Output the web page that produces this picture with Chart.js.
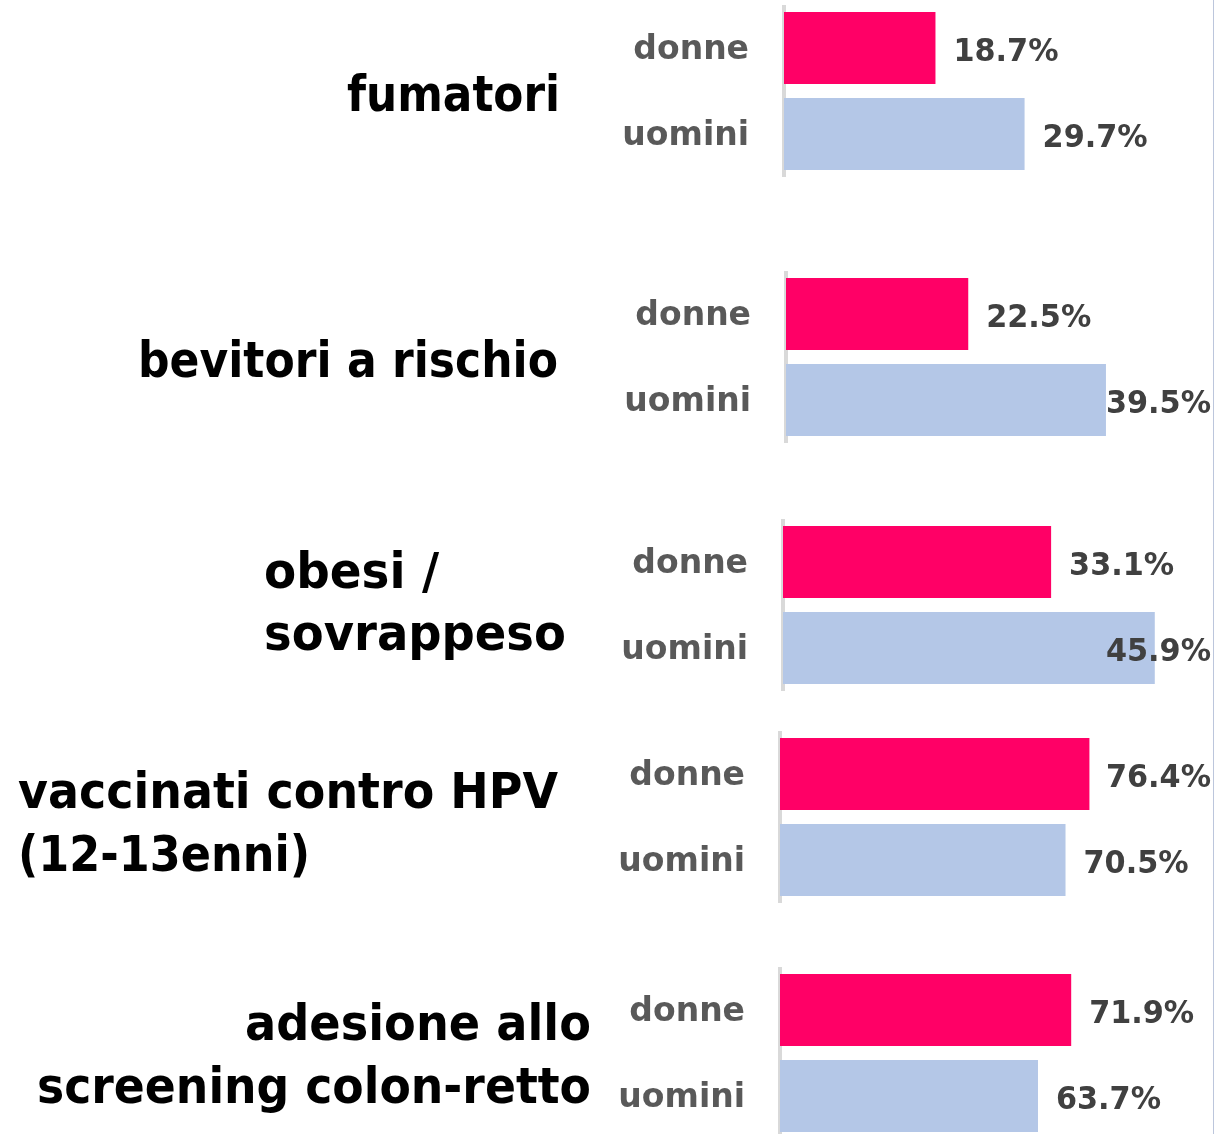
<!DOCTYPE html>
<html>
<head>
<meta charset="utf-8">
<script src="https://cdn.jsdelivr.net/npm/chart.js@4.4.1/dist/chart.umd.min.js"></script>
<style>
  html, body { margin: 0; padding: 0; background: #ffffff; overflow: hidden; }
  #wrap { position: relative; width: 1214px; height: 1134px; }
  canvas { position: absolute; left: 0; }
  #edge { position: absolute; left: 1213px; top: 0; width: 1px; height: 1134px; background: #bcc6dc; }
</style>
</head>
<body>
<div id="wrap">
  <canvas id="c0" width="1214" height="172"></canvas>
  <canvas id="c1" width="1214" height="172"></canvas>
  <canvas id="c2" width="1214" height="172"></canvas>
  <canvas id="c3" width="1214" height="172"></canvas>
  <canvas id="c4" width="1214" height="172"></canvas>
  <div id="edge"></div>
</div>
<script>
// ---- data ----
const categories = ['fumatori', 'bevitori a rischio', 'obesi / sovrappeso', 'vaccinati contro HPV (12-13enni)', 'adesione allo screening colon-retto'];
const titleLines = [
  ['fumatori'],
  ['bevitori a rischio'],
  ['obesi /', 'sovrappeso'],
  ['vaccinati contro HPV', '(12-13enni)'],
  ['adesione allo', 'screening colon-retto']
];
const groups = ['donne', 'uomini'];
const donne  = [18.7, 22.5, 33.1, 76.4, 71.9];
const uomini = [29.7, 39.5, 45.9, 70.5, 63.7];
const axisMax = [50, 50, 50, 100, 100];

// ---- layout / style (not data) ----
const COLORS = ['#FF0066', '#B4C7E7'];
const FONT = '"DejaVu Sans", "Liberation Sans", sans-serif';
const panelTop  = [5, 271, 519, 731, 967];
const panelLeft = [784, 786, 783, 780, 780];
const plotWidth = 405;
const titleLayout = [
  { align: 'right', x: 560, base: [111],       maxW: [213] },
  { align: 'right', x: 558, base: [377],       maxW: [420] },
  { align: 'left',  x: 264, base: [588, 650],  maxW: [175, 302] },
  { align: 'left',  x: 18,  base: [808, 871],  maxW: [540, 292] },
  { align: 'right', x: 591, base: [1040, 1103], maxW: [346, 554] }
];

const valueLabels = {
  id: 'valueLabels',
  afterDatasetsDraw(chart) {
    const ctx = chart.ctx;
    const meta = chart.getDatasetMeta(0);
    ctx.save();
    ctx.font = 'bold 32px ' + FONT;
    ctx.fillStyle = '#404040';
    ctx.textAlign = 'left';
    ctx.textBaseline = 'middle';
    const maxW = 105;
    meta.data.forEach((bar, i) => {
      const v = chart.data.datasets[0].data[i];
      const txt = v.toFixed(1) + '%';
      const w = Math.min(ctx.measureText(txt).width, maxW);
      const x = Math.min(bar.x + 18, chart.width - 3 - w);
      ctx.fillText(txt, x, bar.y + 5, maxW);
    });
    ctx.restore();
  }
};

const panelTitle = {
  id: 'panelTitle',
  afterDraw(chart, args, opts) {
    const ctx = chart.ctx;
    const L = opts.layout;
    ctx.save();
    ctx.font = 'bold 50px ' + FONT;
    ctx.fillStyle = '#000000';
    ctx.textAlign = L.align;
    ctx.textBaseline = 'alphabetic';
    opts.lines.forEach((line, k) => {
      ctx.fillText(line, L.x, L.base[k] - opts.top, L.maxW[k]);
    });
    ctx.restore();
  }
};

categories.forEach((cat, i) => {
  const canvas = document.getElementById('c' + i);
  canvas.style.top = panelTop[i] + 'px';
  const left = panelLeft[i];
  new Chart(canvas, {
    type: 'bar',
    data: {
      labels: groups,
      datasets: [{
        label: cat,
        data: [donne[i], uomini[i]],
        backgroundColor: COLORS,
        borderWidth: 0,
        barPercentage: 0.837,
        categoryPercentage: 1.0
      }]
    },
    options: {
      indexAxis: 'y',
      responsive: false,
      animation: false,
      layout: { padding: { left: 0, top: 0, bottom: 0, right: 1214 - left - plotWidth } },
      plugins: {
        legend: { display: false },
        tooltip: { enabled: false },
        panelTitle: { lines: titleLines[i], layout: titleLayout[i], top: panelTop[i] }
      },
      scales: {
        x: { display: false, min: 0, max: axisMax[i] },
        y: {
          position: 'left',
          grid: { display: false, drawTicks: false },
          border: { display: true, color: '#d9d9d9', width: 4 },
          ticks: {
            padding: 35,
            labelOffset: 2,
            color: '#595959',
            font: { family: FONT, size: 33, weight: 'bold' }
          },
          afterFit(scale) {
            scale.width = left;
            scale.paddingTop = 0;
            scale.paddingBottom = 0;
          }
        }
      }
    },
    plugins: [valueLabels, panelTitle]
  });
});
</script>
</body>
</html>
